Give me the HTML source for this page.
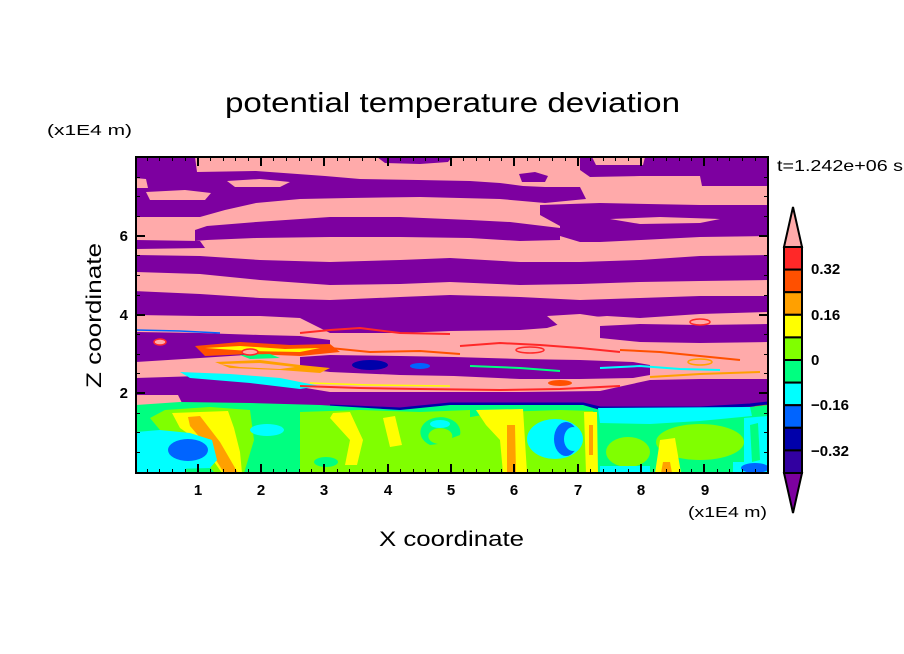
<!DOCTYPE html>
<html>
<head>
<meta charset="utf-8">
<style>
  html,body{margin:0;padding:0;background:#fff;}
  svg{display:block;}
  text{font-family:"Liberation Sans", sans-serif;fill:#000;}
  .tk{font-size:15px;font-weight:bold;}
</style>
</head>
<body>
<svg width="904" height="654" viewBox="0 0 904 654" xmlns="http://www.w3.org/2000/svg">
<rect width="904" height="654" fill="#fff"/>
<defs>
  <clipPath id="c"><rect x="136" y="157" width="632" height="316"/></clipPath>
</defs>

<g clip-path="url(#c)">
  <rect x="136" y="157" width="632" height="316" fill="#FFAAAA"/>
  <g fill="#7D00A0">
    <!-- top-left mass + upper band -->
    <polygon points="134,157 195,157 197,172 256,171 325,176 360,179 418,180 470,181 500,183 523,186 545,187 580,187 586,199 545,203 500,199 460,198 420,197 350,198 300,199 256,203 225,210 200,217 134,217"/>
    <polygon points="377,157 452,157 448,162 420,164 385,163"/>
    <polygon points="519,174 535,172 548,176 545,182 522,182"/>
    <!-- top-right -->
    <polygon points="580,157 768,157 768,186 702,186 700,176 640,176 590,177 580,170"/>
    <!-- right band ~205-236 -->
    <polygon points="540,205 600,203 700,205 768,205 768,236 700,237 641,240 600,242 580,242 560,236 560,226 540,215"/>
    <!-- band ~218-240 -->
    <polygon points="195,230 207,226 256,222 330,217 400,217 470,220 510,222 560,228 560,240 520,241 470,238 400,237 330,237 256,238 207,240 195,241"/>
    <polygon points="134,240 200,241 205,248 134,249"/>
    <!-- band ~255-282 -->
    <polygon points="134,255 200,256 260,260 330,262 400,260 450,258 520,262 580,262 640,260 700,256 768,255 768,280 700,281 640,282 580,284 520,285 450,282 400,284 330,285 260,280 200,274 134,272"/>
    <!-- band ~292-329 -->
    <polygon points="134,291 200,294 260,298 330,300 400,297 450,295 520,297 580,300 640,298 700,296 768,296 768,312 700,314 640,318 607,316 580,318 547,328 520,330 450,331 400,333 330,333 300,318 260,316 200,316 134,315"/>
    <polygon points="136,332 200,333 260,335 300,336 330,340 330,345 300,352 260,354 200,358 136,362"/>
    <polygon points="600,326 640,324 700,325 768,324 768,342 700,343 640,342 600,338"/>
    <polygon points="300,357 330,355 400,356 454,357 520,359 580,360 633,362 650,365 650,375 633,378 580,379 520,379 454,376 400,375 330,372 300,368"/>
    <polygon points="136,378 200,376 267,378 300,387 330,392 450,392 520,392 600,391 650,380 700,379 768,379 768,412 136,412"/>
  </g>
  <!-- pink inclusions -->
  <g fill="#FFAAAA">
    <polygon points="134,178 146,179 148,188 134,188"/>
    <polygon points="146,192 185,190 211,193 205,200 150,200"/>
    <polygon points="227,181 260,179 290,182 280,187 235,187"/>
    <polygon points="592,157 645,157 643,165 596,165"/>
    <polygon points="610,219 660,217 720,219 700,223 640,224"/>
    <polygon points="547,316 580,314 607,318 600,326 560,327"/>
    <polygon points="136,395 178,395 182,403 136,406"/>
    <ellipse cx="762" cy="413" rx="10" ry="8" stroke="#FF5000" stroke-width="2"/>
  </g>

  <!-- colourful mixing zone -->
  <g>
    <polygon points="195,346 240,342 290,345 330,344 340,352 300,356 250,354 205,356" fill="#FF5000"/>
    <polygon points="205,348 240,346 285,349 320,348 300,352 250,351" fill="#FFFF00"/>
    <polygon points="215,362 260,360 300,365 330,368 320,373 280,370 230,368" fill="#FFA000"/>
    <polygon points="220,364 260,363 295,367 280,369 240,367" fill="#FFAAAA"/>
    <polygon points="180,372 230,374 280,378 320,386 300,389 250,383 190,378" fill="#00FFFF"/>
    <polygon points="240,355 270,354 280,358 250,359" fill="#00FF80"/>
    <ellipse cx="370" cy="365" rx="18" ry="5" fill="#0000AA"/>
    <ellipse cx="420" cy="366" rx="10" ry="3" fill="#0064FF"/>
    <ellipse cx="250" cy="352" rx="8" ry="3" fill="#FFAAAA" stroke="#FF2828" stroke-width="1.5"/>
    <ellipse cx="160" cy="342" rx="6" ry="3" fill="#FFAAAA" stroke="#FF2828" stroke-width="1.5"/>
    <ellipse cx="530" cy="350" rx="14" ry="3" fill="#FFAAAA" stroke="#FF2828" stroke-width="1.5"/>
    <ellipse cx="700" cy="362" rx="12" ry="3" fill="#FFAAAA" stroke="#FFA000" stroke-width="1.5"/>
    <ellipse cx="560" cy="383" rx="12" ry="3" fill="#FF5000"/>
    <ellipse cx="700" cy="322" rx="10" ry="3" fill="#FFAAAA" stroke="#FF2828" stroke-width="1.5"/>
  </g>
  <g fill="none" stroke-linejoin="round">
    <polyline points="300,333 330,330 360,328 400,333 450,334" stroke="#FF2828" stroke-width="2"/>
    <polyline points="300,386 360,388 420,389 500,390 560,389 620,386" stroke="#FF2828" stroke-width="2"/>
    <polyline points="310,383 370,385 450,386" stroke="#FFFF00" stroke-width="1.5"/>
    <polyline points="460,346 500,343 540,345 580,348 620,352" stroke="#FF2828" stroke-width="2"/>
    <polyline points="330,348 370,352 420,351 460,354" stroke="#FF5000" stroke-width="2"/>
    <polyline points="620,350 660,352 700,356 740,360" stroke="#FF5000" stroke-width="2"/>
    <polyline points="650,377 700,374 760,372" stroke="#FFA000" stroke-width="2"/>
    <polyline points="600,368 640,366 680,369 720,370" stroke="#00FFFF" stroke-width="2"/>
    <polyline points="470,366 520,368 560,371" stroke="#00FF80" stroke-width="2"/>
    <polyline points="330,406 400,409 450,404 520,404 583,404 600,408 700,408 750,405 768,403" stroke="#0000AA" stroke-width="3"/>
    <polyline points="136,330 180,331 220,333" stroke="#0064FF" stroke-width="1.5"/>
  </g>

  <!-- lower boundary-layer region -->
  <polygon points="136,405 180,402 250,403 320,405 400,410 450,405 520,405 583,405 600,410 700,410 750,407 768,405 768,473 136,473" fill="#00FF80"/>

  <!-- left part -->
  <polygon points="150,418 165,410 210,407 250,410 254,440 244,473 215,473 185,440 160,430" fill="#80FF00"/>
  <polygon points="172,413 228,411 234,428 240,452 242,473 222,473 200,442 180,428" fill="#FFFF00"/>
  <polygon points="188,417 200,416 220,442 238,473 224,473 208,447 190,426" fill="#FFA000"/>
  <polygon points="136,432 160,430 190,433 212,440 217,460 210,468 136,470" fill="#00FFFF"/>
  <ellipse cx="188" cy="450" rx="20" ry="11" fill="#0064FF"/>
  <rect x="136" y="466" width="50" height="7" fill="#00FFFF"/>
  <ellipse cx="267" cy="430" rx="17" ry="6" fill="#00FFFF"/>

  <!-- centre-left -->
  <polygon points="300,412 360,410 420,412 470,410 470,473 300,473" fill="#80FF00"/>
  <polygon points="333,413 350,412 363,440 357,465 345,465 350,440 330,418" fill="#FFFF00"/>
  <polygon points="383,418 395,416 402,445 390,447" fill="#FFFF00"/>
  <ellipse cx="326" cy="462" rx="12" ry="5" fill="#00FF80"/>
  <path d="M430,445 a20,15 0 1,1 30,-10 l-8,3 a12,8 0 1,0 -14,6 z" fill="#00FF80"/>
  <ellipse cx="440" cy="424" rx="10" ry="4" fill="#00FFFF"/>

  <!-- centre -->
  <polygon points="465,418 500,412 560,410 593,411 597,473 470,473 462,440" fill="#80FF00"/>
  <polygon points="476,410 523,409 527,473 503,473 500,440 486,425" fill="#FFFF00"/>
  <polygon points="507,425 515,425 516,473 507,473" fill="#FFA000"/>
  <ellipse cx="555" cy="439" rx="28" ry="20" fill="#00FFFF"/>
  <ellipse cx="566" cy="439" rx="12" ry="17" fill="#0064FF"/>
  <ellipse cx="573" cy="439" rx="9" ry="12" fill="#00FFFF"/>
  <polygon points="584,412 597,412 598,473 586,473" fill="#FFFF00"/>
  <rect x="589" y="425" width="4" height="30" fill="#FFA000"/>

  <!-- right -->
  <polygon points="598,408 750,407 752,416 700,421 650,424 600,423" fill="#00FFFF"/>
  <ellipse cx="628" cy="452" rx="22" ry="15" fill="#80FF00"/>
  <ellipse cx="700" cy="442" rx="44" ry="18" fill="#80FF00"/>
  <polygon points="660,440 675,438 681,473 655,473" fill="#FFFF00"/>
  <polygon points="663,462 670,462 672,473 661,473" fill="#FFA000"/>
  <polygon points="744,418 768,416 768,473 744,473" fill="#00FFFF"/>
  <polygon points="750,425 758,423 760,460 752,462" fill="#00FF80"/>
  <rect x="733" y="462" width="35" height="11" fill="#00FFFF"/>
  <ellipse cx="755" cy="468" rx="14" ry="5" fill="#0064FF"/>
  <rect x="600" y="466" width="50" height="7" fill="#00FFFF"/>
</g>

<!-- frame -->
<rect x="136" y="157" width="632" height="316" fill="none" stroke="#000" stroke-width="2"/>

<!-- ticks -->
<g stroke="#000" fill="none">
  <path stroke-width="1" d="
  M147.5,473v-4 M159.5,473v-4 M172.5,473v-4 M185.5,473v-4 M210.5,473v-4 M223.5,473v-4 M235.5,473v-4 M248.5,473v-4
  M273.5,473v-4 M286.5,473v-4 M299.5,473v-4 M311.5,473v-4 M337.5,473v-4 M349.5,473v-4 M362.5,473v-4 M375.5,473v-4
  M400.5,473v-4 M413.5,473v-4 M425.5,473v-4 M438.5,473v-4 M463.5,473v-4 M476.5,473v-4 M489.5,473v-4 M501.5,473v-4
  M527.5,473v-4 M539.5,473v-4 M552.5,473v-4 M565.5,473v-4 M590.5,473v-4 M603.5,473v-4 M615.5,473v-4 M628.5,473v-4
  M653.5,473v-4 M666.5,473v-4 M679.5,473v-4 M691.5,473v-4 M717.5,473v-4 M729.5,473v-4 M742.5,473v-4 M755.5,473v-4
  M147.5,157v4 M159.5,157v4 M172.5,157v4 M185.5,157v4 M210.5,157v4 M223.5,157v4 M235.5,157v4 M248.5,157v4
  M273.5,157v4 M286.5,157v4 M299.5,157v4 M311.5,157v4 M337.5,157v4 M349.5,157v4 M362.5,157v4 M375.5,157v4
  M400.5,157v4 M413.5,157v4 M425.5,157v4 M438.5,157v4 M463.5,157v4 M476.5,157v4 M489.5,157v4 M501.5,157v4
  M527.5,157v4 M539.5,157v4 M552.5,157v4 M565.5,157v4 M590.5,157v4 M603.5,157v4 M615.5,157v4 M628.5,157v4
  M653.5,157v4 M666.5,157v4 M679.5,157v4 M691.5,157v4 M717.5,157v4 M729.5,157v4 M742.5,157v4 M755.5,157v4
  M136,452.5h4 M136,432.5h4 M136,413.5h4 M136,373.5h4 M136,354.5h4 M136,334.5h4 M136,295.5h4 M136,275.5h4 M136,255.5h4 M136,216.5h4 M136,196.5h4 M136,177.5h4
  M768,452.5h-4 M768,432.5h-4 M768,413.5h-4 M768,373.5h-4 M768,354.5h-4 M768,334.5h-4 M768,295.5h-4 M768,275.5h-4 M768,255.5h-4 M768,216.5h-4 M768,196.5h-4 M768,177.5h-4"/>
  <path stroke-width="2" d="
  M198,473v-9 M261,473v-9 M324,473v-9 M388,473v-9 M451,473v-9 M514,473v-9 M578,473v-9 M641,473v-9 M704,473v-9
  M198,157v9 M261,157v9 M324,157v9 M388,157v9 M451,157v9 M514,157v9 M578,157v9 M641,157v9 M704,157v9
  M136,393h9 M136,315h9 M136,236h9
  M768,393h-9 M768,315h-9 M768,236h-9"/>
</g>

<!-- tick labels -->
<g class="tk" text-anchor="middle">
  <text x="198" y="495">1</text>
  <text x="261" y="495">2</text>
  <text x="324" y="495">3</text>
  <text x="388" y="495">4</text>
  <text x="451" y="495">5</text>
  <text x="514" y="495">6</text>
  <text x="578" y="495">7</text>
  <text x="641" y="495">8</text>
  <text x="705" y="495">9</text>
</g>
<g class="tk" text-anchor="end">
  <text x="128" y="398">2</text>
  <text x="128" y="320">4</text>
  <text x="128" y="241">6</text>
</g>

<!-- titles -->
<text x="225" y="112" font-size="28" textLength="455" lengthAdjust="spacingAndGlyphs">potential temperature deviation</text>
<text x="47" y="135" font-size="15" textLength="85" lengthAdjust="spacingAndGlyphs">(x1E4 m)</text>
<text x="688" y="517" font-size="15" textLength="79" lengthAdjust="spacingAndGlyphs">(x1E4 m)</text>
<text x="379" y="546" font-size="21" textLength="145" lengthAdjust="spacingAndGlyphs">X coordinate</text>
<text transform="translate(101,388) rotate(-90)" x="0" y="0" font-size="21" textLength="145" lengthAdjust="spacingAndGlyphs">Z coordinate</text>
<text x="777" y="171" font-size="16" textLength="126" lengthAdjust="spacingAndGlyphs">t=1.242e+06 s</text>

<!-- colour bar -->
<g stroke="#000" stroke-width="2" stroke-linejoin="miter">
  <polygon points="784,247 793,207 802,247" fill="#FFAAAA"/>
  <rect x="784" y="247" width="18" height="22.6" fill="#FF2828"/>
  <rect x="784" y="269.6" width="18" height="22.6" fill="#FF5000"/>
  <rect x="784" y="292.2" width="18" height="22.6" fill="#FFA000"/>
  <rect x="784" y="314.8" width="18" height="22.6" fill="#FFFF00"/>
  <rect x="784" y="337.4" width="18" height="22.6" fill="#80FF00"/>
  <rect x="784" y="360" width="18" height="22.6" fill="#00FF80"/>
  <rect x="784" y="382.6" width="18" height="22.6" fill="#00FFFF"/>
  <rect x="784" y="405.2" width="18" height="22.6" fill="#0064FF"/>
  <rect x="784" y="427.8" width="18" height="22.6" fill="#0000AA"/>
  <rect x="784" y="450.4" width="18" height="22.6" fill="#3200A0"/>
  <polygon points="784,473 793,513 802,473" fill="#7D00A0"/>
</g>
<g class="tk">
  <text x="811" y="274">0.32</text>
  <text x="811" y="320">0.16</text>
  <text x="811" y="365">0</text>
  <text x="811" y="410">−0.16</text>
  <text x="811" y="456">−0.32</text>
</g>
</svg>
</body>
</html>
